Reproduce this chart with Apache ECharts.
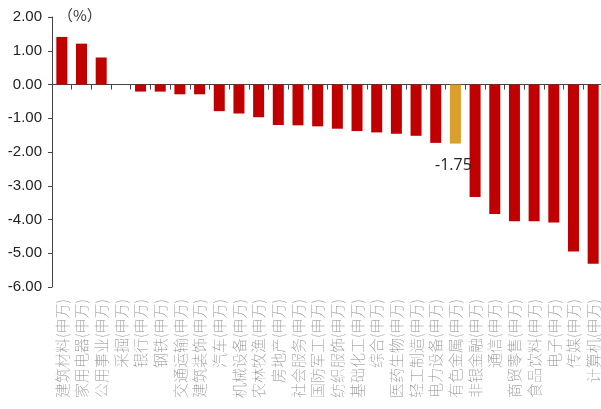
<!DOCTYPE html>
<html><head><meta charset="utf-8">
<script src="https://cdn.jsdelivr.net/npm/echarts@6/dist/echarts.min.js"></script>
<style>html,body{margin:0;padding:0;background:#fff}#c{width:601px;height:409px}</style>
</head><body><div id="c"></div>
<script>
const categories = ["建筑材料(申万)","家用电器(申万)","公用事业(申万)","采掘(申万)","银行(申万)","钢铁(申万)","交通运输(申万)","建筑装饰(申万)","汽车(申万)","机械设备(申万)","农林牧渔(申万)","房地产(申万)","社会服务(申万)","国防军工(申万)","纺织服饰(申万)","基础化工(申万)","综合(申万)","医药生物(申万)","轻工制造(申万)","电力设备(申万)","有色金属(申万)","非银金融(申万)","通信(申万)","商贸零售(申万)","食品饮料(申万)","电子(申万)","传媒(申万)","计算机(申万)"];
const values = [1.41,1.21,0.80,0,-0.21,-0.21,-0.29,-0.29,-0.79,-0.86,-0.97,-1.20,-1.21,-1.24,-1.31,-1.38,-1.42,-1.46,-1.52,-1.73,-1.75,-3.33,-3.84,-4.05,-4.05,-4.09,-4.95,-5.31];
const highlightName = "有色金属(申万)";
const yTicks = {min:-6, max:2, interval:1};

const chart = echarts.init(document.getElementById('c'));
chart.setOption({
  animation:false,
  backgroundColor:'#fff',
  grid:{left:52, top:17, width:551, bottom:122, containLabel:false, outerBoundsMode:'none'},
  graphic:[{type:'text', left:58, top:8, style:{text:'（%）', fontSize:15, fontFamily:'Noto Sans CJK SC', fill:'#333'}}],
  xAxis:[{
    type:'category', data:categories, position:'bottom',
    axisLine:{show:false, onZero:false}, axisTick:{show:false},
    axisLabel:{rotate:90, interval:0, margin:12, fontSize:15, color:'#888', fontWeight:'lighter', fontFamily:'Noto Sans CJK SC'}
  },{
    type:'category', data:categories, position:'top',
    axisLine:{show:true, onZero:true, lineStyle:{color:'#444', width:1}},
    axisTick:{show:true, inside:true, interval:0, length:5, lineStyle:{color:'#444'}},
    axisLabel:{show:false}
  }],
  yAxis:{
    type:'value', min:yTicks.min, max:yTicks.max, interval:yTicks.interval,
    splitLine:{show:false},
    axisLine:{show:true, lineStyle:{color:'#444'}},
    axisTick:{show:true, length:4, lineStyle:{color:'#444'}},
    axisLabel:{formatter:v=>v.toFixed(2), fontSize:15, color:'#222', fontFamily:'Liberation Sans', margin:10}
  },
  series:[{
    type:'bar', barWidth:11, xAxisIndex:0,
    data: categories.map((c,i)=>({
      value: values[i],
      itemStyle:{color: c===highlightName ? '#DA9F2C' : '#C00000'},
      label: c===highlightName ? {show:true, position:'bottom', distance:14, offset:[-2,0], formatter:p=>p.value.toFixed(2), fontSize:16, color:'#222', fontFamily:'Open Sans'} : {show:false}
    }))
  }]
});
</script></body></html>
